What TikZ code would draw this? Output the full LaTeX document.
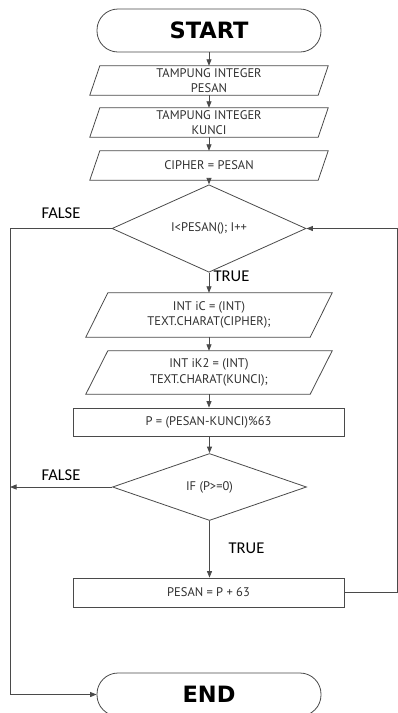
\documentclass[tikz,border=0pt]{standalone}
\usepackage{fontspec}
\setmainfont{PT Sans}
\newfontfamily\termfont{DejaVu Sans}
\newfontfamily\labfont{Carlito}
\usetikzlibrary{shapes.geometric,arrows.meta,calc}
\definecolor{lc}{HTML}{4A4A4A}
\definecolor{tc}{HTML}{303030}
\begin{document}
\begin{tikzpicture}[x=1pt,y=-1pt,
  ln/.style={draw=lc, line width=0.8pt},
  arr/.style={ln, -{Triangle[length=6.5pt,width=5pt]}},
  term/.style={draw=lc, line width=0.8pt, rounded corners=21pt, minimum width=224pt, minimum height=43pt, inner sep=0pt, font=\termfont\bfseries\fontsize{22.5}{26}\selectfont, text=black},
  iotext/.style={inner sep=0pt, align=center, text=tc, font=\fontsize{12.5}{15.5}\selectfont},
  proc/.style={draw=lc, line width=0.8pt, minimum width=271pt, inner sep=0pt, text=tc, font=\fontsize{12.5}{15.5}\selectfont},
  dec/.style={diamond, draw=lc, line width=0.8pt, minimum width=194pt, minimum height=67pt, inner sep=0pt, text=tc, font=\fontsize{12.5}{15.5}\selectfont},
  lab/.style={inner sep=0pt, text=black, font=\labfont\fontsize{16.5}{18}\selectfont}]
\useasboundingbox (0,0) rectangle (398,713);
\clip (0,0) rectangle (398,713);

\node[term] (start) at (209,30.5) {START};

\node[iotext, minimum width=228pt, minimum height=29pt] (p1) at (209,80.5) {TAMPUNG INTEGER\\PESAN};
\node[iotext, minimum width=228pt, minimum height=29pt] (p2) at (209,122.5) {TAMPUNG INTEGER\\KUNCI};
\node[iotext, minimum width=228pt, minimum height=29pt] (p3) at (209,165.5) {CIPHER = PESAN};
\foreach \n in {p1,p2,p3}{
  \draw[ln] ($(\n.north west)+(5,0)$) -- ($(\n.north east)+(5,0)$) -- ($(\n.south east)+(-5,0)$) -- ($(\n.south west)+(-5,0)$) -- cycle;
}

\node[dec] (d1) at (209,228.5) {I<PESAN(); I++};

\node[iotext, minimum width=224pt, minimum height=44pt] (p4) at (209,315) {INT iC = (INT)\\TEXT.CHARAT(CIPHER);};
\node[iotext, minimum width=224pt, minimum height=43pt] (p5) at (209,372.5) {INT iK2 = (INT)\\TEXT.CHARAT(KUNCI);};
\foreach \n in {p4,p5}{
  \draw[ln] ($(\n.north west)+(11,0)$) -- ($(\n.north east)+(11,0)$) -- ($(\n.south east)+(-11,0)$) -- ($(\n.south west)+(-11,0)$) -- cycle;
}

\node[proc, minimum height=28pt] (pp) at (208.5,422) {P = (PESAN-KUNCI)\%63};
\node[dec] (d2) at (209.5,487) {IF (P>=0)};
\node[proc, minimum height=29pt] (pes) at (208.5,592.5) {PESAN = P + 63};
\node[term] (endn) at (209,694.5) {END};

\draw[arr] (start) -- (p1);
\draw[arr] (p1) -- (p2);
\draw[arr] (p2) -- (p3);
\draw[arr] (p3) -- (d1);
\draw[arr] (d1) -- (p4);
\draw[arr] (p4) -- (p5);
\draw[arr] (p5.south) -- (pp.north -| p5.south);
\draw[arr] (pp.south -| d2.north) -- (d2.north);
\draw[arr] (d2.south) -- (pes.north -| d2.south);

\coordinate (lx) at (10,228.5);
\coordinate (lx2) at (10,487);
\coordinate (rx) at (397.8,592.5);
\draw[arr] (d1.west) -- (lx) |- (endn.west);
\draw[arr] (d2.west) -- (lx2);
\draw[arr] (pes.east) -- (rx) |- (d1.east);

\node[lab] (f1) at (61,213) {FALSE};
\node[lab] (f2) at (61,475) {FALSE};
\node[lab] (t1) at (231.5,276) {TRUE};
\node[lab] (t2) at (246.5,548) {TRUE};
\end{tikzpicture}
\end{document}
